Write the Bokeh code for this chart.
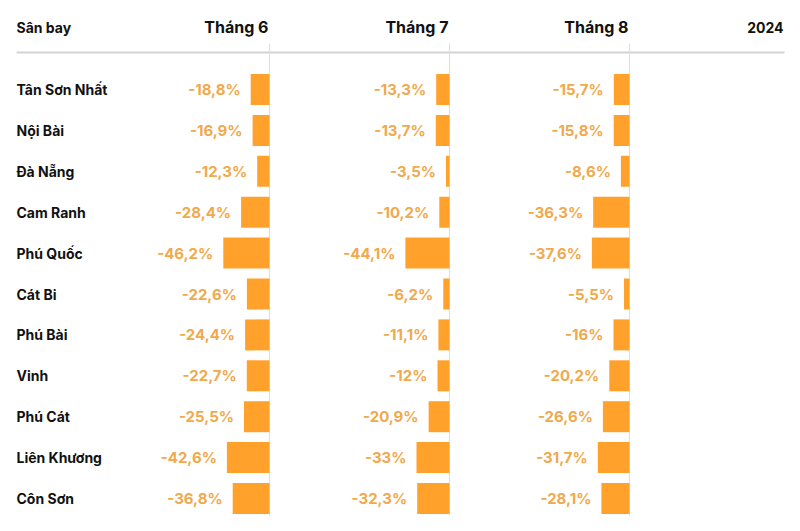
from bokeh.plotting import figure
from bokeh.models import Range1d, ColumnDataSource
from bokeh.embed import file_html
from bokeh.resources import INLINE
from bokeh.core.properties import value

airports = ["Tân Sơn Nhất", "Nội Bài", "Đà Nẵng", "Cam Ranh", "Phú Quốc", "Cát Bi",
            "Phú Bài", "Vinh", "Phú Cát", "Liên Khương", "Côn Sơn"]
month_labels = ["Tháng 6", "Tháng 7", "Tháng 8"]
year_label = "2024"
header_label = "Sân bay"
thang6 = [-18.8, -16.9, -12.3, -28.4, -46.2, -22.6, -24.4, -22.7, -25.5, -42.6, -36.8]
thang7 = [-13.3, -13.7, -3.5, -10.2, -44.1, -6.2, -11.1, -12, -20.9, -33, -32.3]
thang8 = [-15.7, -15.8, -8.6, -36.3, -37.6, -5.5, -16, -20.2, -26.6, -31.7, -28.1]
series = [thang6, thang7, thang8]

W, H = 800, 531
FONT = "Inter"
BAR = "#FFA12B"
LABEL = "#F0A94C"

p = figure(width=W, height=H, x_range=Range1d(0, W), y_range=Range1d(H, 0),
           output_backend="svg", toolbar_location=None, min_border=0)
p.axis.visible = False
p.grid.visible = False
p.outline_line_color = None
p.background_fill_color = "white"
p.border_fill_color = "white"

bases = [269, 449, 629]
row0, step = 89, 40.9
rows = [row0 + i * step for i in range(len(airports))]
bottom = rows[-1] + 17

def fmt(v):
    return f"{v:g}".replace(".", ",") + "%"

# header line
p.segment(x0=[16], y0=[52], x1=[784], y1=[52], line_color="#d4d4d4", line_width=2)
# vertical baselines
p.segment(x0=bases, y0=[43] * 3, x1=bases, y1=[bottom] * 3, line_color="#dddddd", line_width=1)

# headers
p.text(x=[16], y=[27], text=[header_label], text_font=value(FONT), text_font_style="bold",
       text_font_size="14px", text_baseline="middle", text_align="left", text_color="#111111")
p.text(x=[b - 1 for b in bases], y=[26] * 3, text=month_labels, text_font=value(FONT),
       text_font_style="bold", text_font_size="16px", text_baseline="middle",
       text_align="right", text_color="#111111")
p.text(x=[783], y=[27], text=[year_label], text_font=value(FONT), text_font_style="bold",
       text_font_size="14px", text_baseline="middle", text_align="right", text_color="#111111")

# airport names
p.text(x=[16] * len(airports), y=rows, text=airports, text_font=value(FONT),
       text_font_style="bold", text_font_size="14px", text_baseline="middle",
       text_align="left", text_color="#111111")

for base, vals in zip(bases, series):
    src = ColumnDataSource(dict(
        y=rows,
        left=[base + v for v in vals],
        right=[base] * len(vals),
        lx=[base + v - 10 for v in vals],
        lab=[fmt(v) for v in vals],
    ))
    p.hbar(y="y", left="left", right="right", height=31, source=src,
           fill_color=BAR, line_color=None)
    p.text(x="lx", y="y", text="lab", source=src, text_font=value(FONT),
           text_font_style="bold", text_font_size="15px", text_baseline="middle",
           text_align="right", text_color=LABEL)

open("out.html", "w").write(file_html(p, INLINE))
